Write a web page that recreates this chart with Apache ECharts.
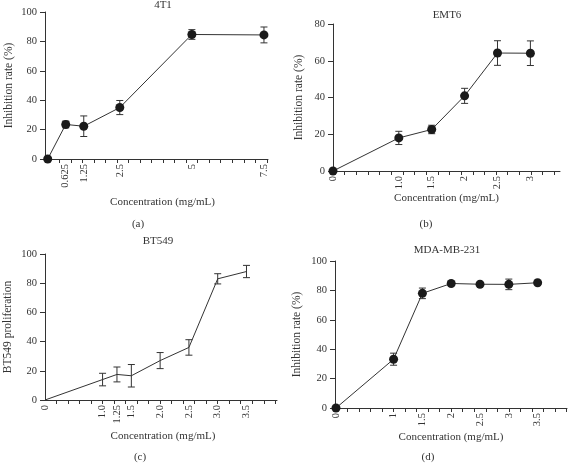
<!DOCTYPE html>
<html><head><meta charset="utf-8">
<script src="https://cdn.jsdelivr.net/npm/echarts@6/dist/echarts.min.js"></script>
<style>html,body{margin:0;padding:0;background:#fff}#c{width:568px;height:464px}</style>
</head><body><div id="c"></div>
<script>
// Panel (a) 4T1
const xA = [0, 0.625, 1.25, 2.5, 5, 7.5];
const yA = [0, 23.5, 22.3, 35, 84.7, 84.4];
const eA = [0, 2.3, 7, 4.8, 3.3, 5.4];
const labelsA = [0.625, 1.25, 2.5, 5, 7.5];
// Panel (b) EMT6
const xB = [0, 1.0, 1.5, 2, 2.5, 3];
const yB = [0, 18, 22.6, 40.9, 64.2, 64.1];
const eB = [0, 3.6, 2.3, 4.1, 6.7, 6.7];
const labelsB = [0, 1.0, 1.5, 2, 2.5, 3];
// Panel (c) BT549
const xC = [0, 1.0, 1.25, 1.5, 2.0, 2.5, 3.0, 3.5];
const yC = [0, 14, 17.5, 16.6, 27, 36, 83, 88];
const eC = [0, 4.3, 5.1, 7.7, 5.5, 5.3, 3.5, 4.2];
const labelsC = [0, 1.0, 1.25, 1.5, 2.0, 2.5, 3.0, 3.5];
// Panel (d) MDA-MB-231
const xD = [0, 1, 1.5, 2, 2.5, 3, 3.5];
const yD = [0, 33.2, 78, 84.7, 84.2, 84.1, 85.2];
const eD = [0, 4.1, 3.6, 1.0, 1.0, 3.6, 1.0];
const labelsD = [0, 1, 1.5, 2, 2.5, 3, 3.5];

const titles = ['4T1', 'EMT6', 'BT549', 'MDA-MB-231'];
const yNames = ['Inhibition rate (%)', 'Inhibition rate (%)', 'BT549 proliferation', 'Inhibition rate (%)'];
const subLabels = ['(a)', '(b)', '(c)', '(d)'];
const xName = 'Concentration (mg/mL)';

const FONT = 'Liberation Serif';
const TXT = '#333';
const LINE = '#333';

function ticks(step, max) { const t = []; for (let v = step; v <= max + 1e-9; v += step) t.push(+v.toFixed(4)); return t; }

const panels = [
  {x: xA, y: yA, e: eA, labels: labelsA, fmt: v => String(v), grid: {left: 45, top: 12, width: 223, height: 147}, xmin: -0.094, xmax: 7.64, ymax: 100, tickStep: 0.4, marker: true, xGap: 38, yGap: 30, nameShift: 12},
  {x: xB, y: yB, e: eB, labels: labelsB, fmt: v => (v === 1 ? '1.0' : String(v)), grid: {left: 333, top: 24, width: 227, height: 147}, xmin: 0, xmax: 3.45, ymax: 80, tickStep: 0.177, marker: true, xGap: 17, yGap: 28, nameShift: 0},
  {x: xC, y: yC, e: eC, labels: labelsC, fmt: v => (Number.isInteger(v) && v > 0 ? v.toFixed(1) : String(v)), grid: {left: 45, top: 254, width: 232, height: 146}, xmin: 0, xmax: 4.03, ymax: 100, tickStep: 0.2, marker: false, xGap: 31, yGap: 31, nameShift: 4},
  {x: xD, y: yD, e: eD, labels: labelsD, fmt: v => String(v), grid: {left: 335, top: 261, width: 232, height: 147}, xmin: -0.017, xmax: 4.01, ymax: 100, tickStep: 0.2, marker: true, xGap: 24, yGap: 32, nameShift: 0}
];

const option = {
  animation: false,
  backgroundColor: '#fff',
  textStyle: {fontFamily: FONT, color: TXT},
  title: [], grid: [], xAxis: [], yAxis: [], series: []
};

const titlePos = [[163, 0], [447, 10], [158, 236], [447, 245]];
const subPos = [[138, 219], [426, 219], [140, 452], [428, 452]];

panels.forEach((p, i) => {
  option.title.push({text: titles[i], left: titlePos[i][0], top: titlePos[i][1], textAlign: 'center', padding: 0,
    textStyle: {fontFamily: FONT, fontSize: 11, fontWeight: 'normal', color: TXT}});
  option.title.push({text: subLabels[i], left: subPos[i][0], top: subPos[i][1], textAlign: 'center', padding: 0,
    textStyle: {fontFamily: FONT, fontSize: 11, fontWeight: 'normal', color: TXT}});
  option.grid.push(p.grid);
  option.xAxis.push({
    type: 'value', gridIndex: i, min: p.xmin, max: p.xmax,
    name: xName, nameLocation: 'middle', nameGap: p.xGap,
    nameTextStyle: {fontFamily: FONT, fontSize: 11, color: TXT, padding: [0, 0, 0, p.nameShift]},
    axisLine: {show: true, onZero: false, lineStyle: {color: LINE, width: 1}},
    axisTick: {show: true, length: 4, customValues: ticks(p.tickStep, p.xmax), lineStyle: {color: LINE}},
    axisLabel: {show: true, rotate: 90, customValues: p.labels, formatter: p.fmt, fontFamily: FONT, fontSize: 10.5, color: TXT, margin: 5},
    splitLine: {show: false}
  });
  option.yAxis.push({
    type: 'value', gridIndex: i, min: 0, max: p.ymax, interval: 20,
    name: yNames[i], nameLocation: 'middle', nameGap: p.yGap, nameRotate: 90,
    nameTextStyle: {fontFamily: FONT, fontSize: 11.5, color: TXT},
    axisLine: {show: true, onZero: false, lineStyle: {color: LINE, width: 1}},
    axisTick: {show: true, length: 5, lineStyle: {color: LINE}},
    axisLabel: {fontFamily: FONT, fontSize: 10.5, color: TXT, margin: 8},
    splitLine: {show: false}
  });
  const pts = p.x.map((v, k) => [v, p.y[k]]);
  option.series.push({
    type: 'line', xAxisIndex: i, yAxisIndex: i, data: pts,
    symbol: p.marker ? 'circle' : 'none', symbolSize: 9, showSymbol: p.marker,
    lineStyle: {color: LINE, width: 1}, itemStyle: {color: '#1a1a1a'}, z: 3
  });
  option.series.push({
    type: 'custom', xAxisIndex: i, yAxisIndex: i,
    data: p.x.map((v, k) => [v, p.y[k] - p.e[k], p.y[k] + p.e[k]]),
    renderItem: function (params, api) {
      const x = api.value(0);
      const lo = api.coord([x, api.value(1)]);
      const hi = api.coord([x, api.value(2)]);
      if (Math.abs(hi[1] - lo[1]) < 0.5) return null;
      const w = 3.5;
      const st = {stroke: LINE, lineWidth: 1};
      return {type: 'group', children: [
        {type: 'line', shape: {x1: lo[0], y1: lo[1], x2: hi[0], y2: hi[1]}, style: st},
        {type: 'line', shape: {x1: lo[0] - w, y1: lo[1], x2: lo[0] + w, y2: lo[1]}, style: st},
        {type: 'line', shape: {x1: hi[0] - w, y1: hi[1], x2: hi[0] + w, y2: hi[1]}, style: st}
      ]};
    },
    z: 2
  });
});

const chart = echarts.init(document.getElementById('c'), null, {renderer: 'canvas'});
chart.setOption(option);
</script>
</body></html>
